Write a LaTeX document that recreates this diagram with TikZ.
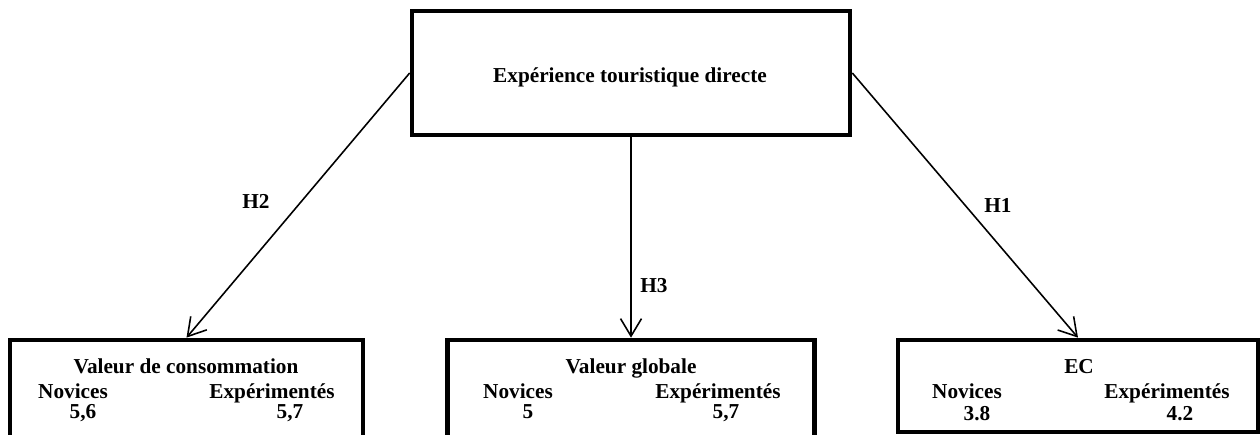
\documentclass[tikz,border=0pt]{standalone}
\usepackage{fontspec}
\setmainfont{Liberation Serif}
\usepackage{tikz}
\usetikzlibrary{arrows.meta}

\begin{document}
\begin{tikzpicture}[x=0.02cm,y=-0.02cm,
  every node/.style={font=\fontsize{12.1}{14}\selectfont\bfseries},
  bigbox/.style={draw,line width=2.7pt,inner sep=0pt},
  txt/.style={inner sep=0pt,anchor=base},
  hyp/.style={line width=0.9pt,-{Straight Barb[length=3.5mm,width=4.2mm,line width=0.9pt]}}]
\useasboundingbox (0,0) rectangle (1260,434);
% boxes
\node (exp) [bigbox,minimum width=8.76cm,minimum height=2.48cm] at (631,73) {};
\node (vc) [bigbox,minimum width=7.06cm,minimum height=2.00cm] at (186.5,390) {};
\node (vg) [bigbox,minimum width=7.34cm,minimum height=2.00cm] at (631,390) {};
\node (ec) [bigbox,minimum width=7.20cm,minimum height=1.84cm] at (1078,386) {};
\node (exptxt) [txt] at (630,82) {Expérience touristique directe};
% Valeur de consommation
\node (vctit) [txt] at (186,373) {Valeur de consommation};
\node (vcnov) [txt] at (73,398) {Novices};
\node (vcexp) [txt] at (272,398) {Expérimentés};
\node (vcnovv) [txt] at (83,418) {5,6};
\node (vcexpv) [txt] at (290,418) {5,7};
% Valeur globale
\node (vgtit) [txt] at (631,373) {Valeur globale};
\node (vgnov) [txt] at (518,398) {Novices};
\node (vgexp) [txt] at (718,398) {Expérimentés};
\node (vgnovv) [txt] at (528,418) {5};
\node (vgexpv) [txt] at (726,418) {5,7};
% EC
\node (ectit) [txt] at (1079,373) {EC};
\node (ecnov) [txt] at (967,398) {Novices};
\node (ecexp) [txt] at (1167,398) {Expérimentés};
\node (ecnovv) [txt] at (977,420) {3.8};
\node (ecexpv) [txt] at (1180,420) {4.2};
% hypotheses
\draw[hyp] (exp.west) -- (vc.north);
\draw[hyp] (exp.south) -- (vg.north);
\draw[hyp] (exp.east) -- (ec.north);
\node (h2) [txt] at (256,208) {H2};
\node (h3) [txt] at (654,292) {H3};
\node (h1) [txt] at (998,212) {H1};
\end{tikzpicture}
\end{document}
